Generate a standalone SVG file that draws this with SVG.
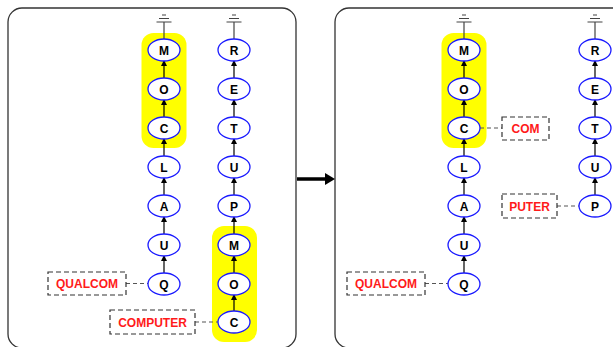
<svg xmlns="http://www.w3.org/2000/svg" width="613" height="347" viewBox="0 0 613 347">
<defs>
<marker id="ah" markerWidth="6" markerHeight="6" refX="5" refY="3" orient="auto" markerUnits="userSpaceOnUse">
<path d="M0,0 L6,3 L0,6 Z" fill="#000"/>
</marker>
<style>
.panel{fill:#fff;stroke:#333;stroke-width:1.3}
.hl{fill:#ffff00;stroke:none}
.nd ellipse{fill:#fff;stroke:#1a1aff;stroke-width:1.3}
.nd text{font-family:"Liberation Sans",Arial,sans-serif;font-weight:bold;font-size:12px;fill:#000;text-anchor:middle}
.lb rect{fill:#fff;stroke:#333;stroke-width:1.2;stroke-dasharray:5,3}
.lb text{font-family:"Liberation Sans",Arial,sans-serif;font-weight:bold;font-size:12px;fill:#ff1a1a;text-anchor:middle}
.ed{stroke:#000;stroke-width:1.2;fill:none;marker-end:url(#ah)}
.ds{stroke:#555;stroke-width:1.2;stroke-dasharray:4,3;fill:none}
.gd{stroke:#444;stroke-width:1.2;fill:none}
</style>
</defs>
<rect class="panel" x="8" y="8" width="288" height="340" rx="14"/>
<rect class="panel" x="335" y="8" width="300" height="340" rx="14"/>
<rect class="hl" x="141.5" y="33" width="45" height="115" rx="12"/>
<rect class="hl" x="212" y="226" width="45" height="116" rx="12"/>
<rect class="hl" x="441.5" y="33" width="45" height="115" rx="12"/>
<g id="connectors">
<path class="gd" d="M164,22 V39 M156.5,22 H171.5 M159,18.5 H169 M162,15 H166"/>
<path class="gd" d="M234,22 V39 M226.5,22 H241.5 M229,18.5 H239 M232,15 H236"/>
<path class="gd" d="M464,22 V39 M456.5,22 H471.5 M459,18.5 H469 M462,15 H466"/>
<path class="gd" d="M595,22 V39 M587.5,22 H602.5 M590,18.5 H600 M593,15 H597"/>
<line class="ed" x1="164" y1="78" x2="164" y2="61"/>
<line class="ed" x1="164" y1="117" x2="164" y2="100"/>
<line class="ed" x1="164" y1="156" x2="164" y2="139"/>
<line class="ed" x1="164" y1="195" x2="164" y2="178"/>
<line class="ed" x1="164" y1="234" x2="164" y2="217"/>
<line class="ed" x1="164" y1="273" x2="164" y2="256"/>
<line class="ed" x1="234" y1="78" x2="234" y2="61"/>
<line class="ed" x1="234" y1="117" x2="234" y2="100"/>
<line class="ed" x1="234" y1="156" x2="234" y2="139"/>
<line class="ed" x1="234" y1="195" x2="234" y2="178"/>
<line class="ed" x1="234" y1="234" x2="234" y2="217"/>
<line class="ed" x1="234" y1="273" x2="234" y2="256"/>
<line class="ed" x1="234" y1="311" x2="234" y2="295"/>
<line class="ed" x1="464" y1="78" x2="464" y2="61"/>
<line class="ed" x1="464" y1="117" x2="464" y2="100"/>
<line class="ed" x1="464" y1="156" x2="464" y2="139"/>
<line class="ed" x1="464" y1="195" x2="464" y2="178"/>
<line class="ed" x1="464" y1="234" x2="464" y2="217"/>
<line class="ed" x1="464" y1="273" x2="464" y2="256"/>
<line class="ed" x1="595" y1="78" x2="595" y2="61"/>
<line class="ed" x1="595" y1="117" x2="595" y2="100"/>
<line class="ed" x1="595" y1="156" x2="595" y2="139"/>
<line class="ed" x1="595" y1="195" x2="595" y2="178"/>
<line class="ds" x1="126" y1="283.5" x2="148" y2="283.5"/>
<line class="ds" x1="195" y1="322" x2="218" y2="322"/>
<line class="ds" x1="480" y1="128" x2="502" y2="128"/>
<line class="ds" x1="557" y1="206" x2="579" y2="206"/>
<line class="ds" x1="425" y1="283.5" x2="448" y2="283.5"/>
<line x1="297" y1="179" x2="326" y2="179" stroke="#000" stroke-width="3.5"/>
<polygon points="325,173 335,179 325,185" fill="#000"/>
</g>
<g id="L1M" class="nd"><ellipse cx="164" cy="50" rx="16" ry="11"/><text x="164" y="54.5">M</text></g>
<g id="L1O" class="nd"><ellipse cx="164" cy="89" rx="16" ry="11"/><text x="164" y="93.5">O</text></g>
<g id="L1C" class="nd"><ellipse cx="164" cy="128" rx="16" ry="11"/><text x="164" y="132.5">C</text></g>
<g id="L1L" class="nd"><ellipse cx="164" cy="167" rx="16" ry="11"/><text x="164" y="171.5">L</text></g>
<g id="L1A" class="nd"><ellipse cx="164" cy="206" rx="16" ry="11"/><text x="164" y="210.5">A</text></g>
<g id="L1U" class="nd"><ellipse cx="164" cy="245" rx="16" ry="11"/><text x="164" y="249.5">U</text></g>
<g id="L1Q" class="nd"><ellipse cx="164" cy="284" rx="16" ry="11"/><text x="164" y="288.5">Q</text></g>
<g id="L2R" class="nd"><ellipse cx="234" cy="50" rx="16" ry="11"/><text x="234" y="54.5">R</text></g>
<g id="L2E" class="nd"><ellipse cx="234" cy="89" rx="16" ry="11"/><text x="234" y="93.5">E</text></g>
<g id="L2T" class="nd"><ellipse cx="234" cy="128" rx="16" ry="11"/><text x="234" y="132.5">T</text></g>
<g id="L2U" class="nd"><ellipse cx="234" cy="167" rx="16" ry="11"/><text x="234" y="171.5">U</text></g>
<g id="L2P" class="nd"><ellipse cx="234" cy="206" rx="16" ry="11"/><text x="234" y="210.5">P</text></g>
<g id="L2M" class="nd"><ellipse cx="234" cy="245" rx="16" ry="11"/><text x="234" y="249.5">M</text></g>
<g id="L2O" class="nd"><ellipse cx="234" cy="284" rx="16" ry="11"/><text x="234" y="288.5">O</text></g>
<g id="L2C" class="nd"><ellipse cx="234" cy="322" rx="16" ry="11"/><text x="234" y="326.5">C</text></g>
<g id="R1M" class="nd"><ellipse cx="464" cy="50" rx="16" ry="11"/><text x="464" y="54.5">M</text></g>
<g id="R1O" class="nd"><ellipse cx="464" cy="89" rx="16" ry="11"/><text x="464" y="93.5">O</text></g>
<g id="R1C" class="nd"><ellipse cx="464" cy="128" rx="16" ry="11"/><text x="464" y="132.5">C</text></g>
<g id="R1L" class="nd"><ellipse cx="464" cy="167" rx="16" ry="11"/><text x="464" y="171.5">L</text></g>
<g id="R1A" class="nd"><ellipse cx="464" cy="206" rx="16" ry="11"/><text x="464" y="210.5">A</text></g>
<g id="R1U" class="nd"><ellipse cx="464" cy="245" rx="16" ry="11"/><text x="464" y="249.5">U</text></g>
<g id="R1Q" class="nd"><ellipse cx="464" cy="284" rx="16" ry="11"/><text x="464" y="288.5">Q</text></g>
<g id="R2R" class="nd"><ellipse cx="595" cy="50" rx="16" ry="11"/><text x="595" y="54.5">R</text></g>
<g id="R2E" class="nd"><ellipse cx="595" cy="89" rx="16" ry="11"/><text x="595" y="93.5">E</text></g>
<g id="R2T" class="nd"><ellipse cx="595" cy="128" rx="16" ry="11"/><text x="595" y="132.5">T</text></g>
<g id="R2U" class="nd"><ellipse cx="595" cy="167" rx="16" ry="11"/><text x="595" y="171.5">U</text></g>
<g id="R2P" class="nd"><ellipse cx="595" cy="206" rx="16" ry="11"/><text x="595" y="210.5">P</text></g>
<g id="lbQualcomL" class="lb"><rect x="48" y="272" width="78" height="23"/><text x="87" y="288">QUALCOM</text></g>
<g id="lbComputer" class="lb"><rect x="110" y="310" width="85" height="24"/><text x="152.5" y="326.5">COMPUTER</text></g>
<g id="lbCom" class="lb"><rect x="502" y="117" width="47" height="23"/><text x="525.5" y="133">COM</text></g>
<g id="lbPuter" class="lb"><rect x="502" y="194" width="55" height="24"/><text x="529.5" y="210.5">PUTER</text></g>
<g id="lbQualcomR" class="lb"><rect x="347" y="272" width="78" height="23"/><text x="386" y="288">QUALCOM</text></g>
</svg>
